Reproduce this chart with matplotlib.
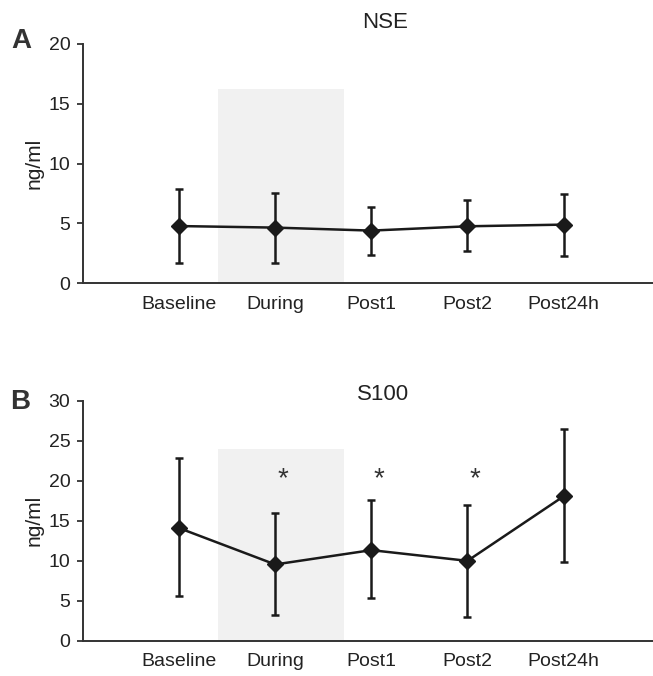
import matplotlib.pyplot as plt
import numpy as np

plt.rcParams.update({
    "font.family": ["Liberation Sans", "DejaVu Sans"],
    "axes.spines.top": False,
    "axes.spines.right": False,
})

labels = ["Baseline", "During", "Post1", "Post2", "Post24h"]

nse_mean = [4.78, 4.65, 4.40, 4.76, 4.90]
nse_upper = [7.90, 7.57, 6.40, 6.95, 7.50]
nse_lower = [1.67, 1.67, 2.36, 2.73, 2.28]

s100_mean = [14.1, 9.55, 11.34, 10.0, 18.07]
s100_upper = [22.8, 16.0, 17.57, 17.03, 26.46]
s100_lower = [5.6, 3.24, 5.36, 2.99, 9.85]
s100_sig = [False, True, True, True, False]

INK = "#1a1a1a"
TXT = "#222222"


def draw_panel(ax, mean, lower, upper, ymax, step, shade_top):
    x = np.arange(1, len(labels) + 1)
    mean = np.array(mean)
    yerr = np.vstack([mean - np.array(lower), np.array(upper) - mean])
    ax.axvspan(1.41, 2.72, ymin=0, ymax=shade_top / ymax, color="#f1f1f1", lw=0, zorder=0)
    ax.errorbar(x, mean, yerr=yerr, fmt="-D", color=INK, ecolor=INK, lw=1.8,
                elinewidth=1.8, capsize=3, capthick=1.8, markersize=8, zorder=3)
    ax.set_xlim(0, 5.93)
    ax.set_ylim(0, ymax)
    ax.set_yticks(np.arange(0, ymax + 1, step))
    ax.set_xticks(x)
    ax.set_xticklabels(labels, fontsize=14, color=TXT)
    ax.tick_params(axis="x", length=0, pad=9)
    ax.tick_params(axis="y", labelsize=14, labelcolor=TXT, length=4, width=1.3, color="#333333", pad=5)
    for s in ("left", "bottom"):
        ax.spines[s].set_linewidth(1.4)
        ax.spines[s].set_color("#333333")


fig = plt.figure(figsize=(6.53, 6.76), dpi=100)
ax_a = fig.add_axes([0.127, 0.581, 0.873, 0.354])
ax_b = fig.add_axes([0.127, 0.052, 0.873, 0.355])

draw_panel(ax_a, nse_mean, nse_lower, nse_upper, 20, 5, 16.2)
draw_panel(ax_b, s100_mean, s100_lower, s100_upper, 30, 5, 24.0)

for i, sig in enumerate(s100_sig):
    if sig:
        ax_b.text(i + 1.08, 20.2, "*", ha="center", va="center", fontsize=20, color="#333333")

# titles, panel letters and y labels placed in figure coordinates
fig.text(0.59, 0.967, "NSE", ha="center", va="center", fontsize=16, color=TXT)
fig.text(0.587, 0.416, "S100", ha="center", va="center", fontsize=16, color=TXT)
fig.text(0.033, 0.939, "A", ha="center", va="center", fontsize=20, fontweight="bold", color="#333333")
fig.text(0.031, 0.405, "B", ha="center", va="center", fontsize=20, fontweight="bold", color="#333333")
fig.text(0.052, 0.758, "ng/ml", rotation=90, ha="center", va="center", fontsize=15, color=TXT)
fig.text(0.052, 0.23, "ng/ml", rotation=90, ha="center", va="center", fontsize=15, color=TXT)

fig.savefig("out.png", dpi=100, facecolor="white")
